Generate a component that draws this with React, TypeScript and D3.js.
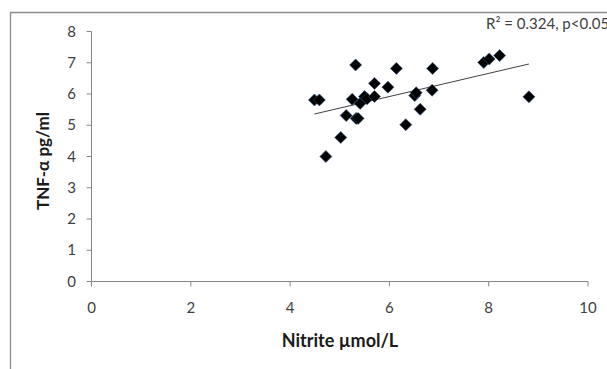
import React, { useEffect, useRef } from 'react';
import * as d3 from 'd3';

// nitrite (umol/L) vs TNF-alpha (pg/ml)
const nitrite = [4.49, 4.59, 4.72, 5.02, 5.13, 5.32, 5.25, 5.33, 5.37, 5.41, 5.5, 5.55, 5.7, 5.7, 5.97, 6.14, 6.33, 6.51, 6.54, 6.62, 6.87, 6.86, 7.9, 8.01, 8.22, 8.81];
const tnf = [5.81, 5.81, 4.0, 4.61, 5.31, 6.93, 5.83, 5.22, 5.22, 5.7, 5.92, 5.85, 6.34, 5.92, 6.22, 6.82, 5.02, 5.95, 6.04, 5.51, 6.82, 6.12, 7.01, 7.12, 7.23, 5.91];

// linear trend line as drawn (endpoints)
const trendX = [4.49, 8.81];
const trendY = [5.36, 6.96];

const xTicks = [0, 2, 4, 6, 8, 10];
const yTicks = [0, 1, 2, 3, 4, 5, 6, 7, 8];
const annotation = 'R² = 0.324, p<0.05';

const W = 607;
const H = 369;

const App = () => {
  const svgRef = useRef(null);

  useEffect(() => {
    const svg = d3.select(svgRef.current);
    svg.selectAll('*').remove();

    const x = d3.scaleLinear().domain([0, 10]).range([91.5, 588]);
    const y = d3.scaleLinear().domain([0, 8]).range([281.5, 31.5]);
    const font = 'Lato, Carlito, Calibri, sans-serif';
    const axisCol = '#868686';

    // chart frame (only top and left edges are visible)
    svg.append('path')
      .attr('d', `M10.5,${H} V12.5 H${W}`)
      .attr('fill', 'none')
      .attr('stroke', '#8c8c8c')
      .attr('stroke-width', 1.3);

    // axes
    svg.append('line')
      .attr('x1', x(0)).attr('x2', x(0))
      .attr('y1', y(0)).attr('y2', y(8))
      .attr('stroke', axisCol);
    svg.append('line')
      .attr('x1', x(0)).attr('x2', x(10))
      .attr('y1', y(0)).attr('y2', y(0))
      .attr('stroke', axisCol);

    svg.selectAll('.ytick')
      .data(yTicks)
      .enter()
      .append('line')
      .attr('x1', x(0) - 5).attr('x2', x(0))
      .attr('y1', (d) => y(d)).attr('y2', (d) => y(d))
      .attr('stroke', axisCol);
    svg.selectAll('.xtick')
      .data(xTicks)
      .enter()
      .append('line')
      .attr('x1', (d) => x(d)).attr('x2', (d) => x(d))
      .attr('y1', y(0)).attr('y2', y(0) + 5)
      .attr('stroke', axisCol);

    svg.selectAll('.ylab')
      .data(yTicks)
      .enter()
      .append('text')
      .attr('x', 76)
      .attr('y', (d) => y(d) + 5)
      .attr('text-anchor', 'end')
      .attr('font-family', font)
      .attr('font-size', 15)
      .attr('fill', '#404040')
      .text((d) => d);
    svg.selectAll('.xlab')
      .data(xTicks)
      .enter()
      .append('text')
      .attr('x', (d) => x(d))
      .attr('y', 313)
      .attr('text-anchor', 'middle')
      .attr('font-family', font)
      .attr('font-size', 15)
      .attr('fill', '#404040')
      .text((d) => d);

    // axis titles
    svg.append('text')
      .attr('x', 340)
      .attr('y', 347)
      .attr('text-anchor', 'middle')
      .attr('font-family', font)
      .attr('font-weight', 'bold')
      .attr('font-size', 18)
      .attr('fill', '#1a1a1a')
      .text('Nitrite µmol/L');
    svg.append('text')
      .attr('transform', 'translate(49,161) rotate(-90)')
      .attr('text-anchor', 'middle')
      .attr('font-family', font)
      .attr('font-weight', 'bold')
      .attr('font-size', 17)
      .attr('fill', '#1a1a1a')
      .text('TNF-α pg/ml');

    // trend line
    const line = d3.line()
      .x((d) => x(d[0]))
      .y((d) => y(d[1]));
    svg.append('path')
      .datum(trendX.map((v, i) => [v, trendY[i]]))
      .attr('d', line)
      .attr('fill', 'none')
      .attr('stroke', '#404040')
      .attr('stroke-width', 1);

    // diamond markers
    const r = 6;
    svg.selectAll('.pt')
      .data(nitrite.map((v, i) => [v, tnf[i]]))
      .enter()
      .append('path')
      .attr('d', (d) => {
        const cx = x(d[0]);
        const cy = y(d[1]);
        return `M${cx},${cy - r}L${cx + r},${cy}L${cx},${cy + r}L${cx - r},${cy}Z`;
      })
      .attr('fill', '#000')
      .attr('stroke', '#2b4f7a')
      .attr('stroke-width', 0.6);

    svg.append('text')
      .attr('x', 486)
      .attr('y', 29)
      .attr('font-family', font)
      .attr('font-size', 15)
      .attr('fill', '#404040')
      .text(annotation);
  }, []);

  return (
    <svg
      ref={svgRef}
      width={W}
      height={H}
      style={{ position: 'absolute', left: 0, top: 0, background: '#fff' }}
    ></svg>
  );
};

export default App;
